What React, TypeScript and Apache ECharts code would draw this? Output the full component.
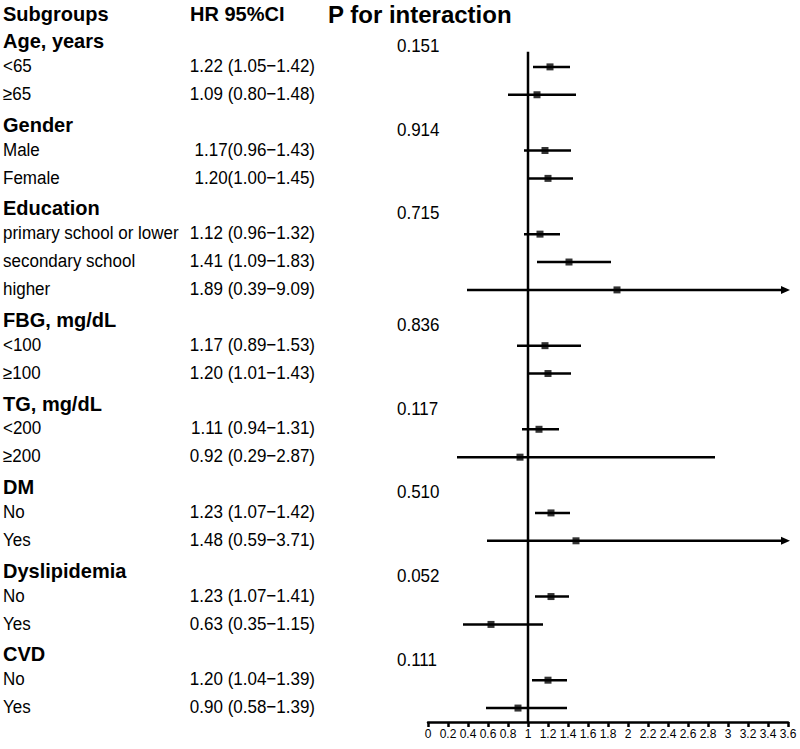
import React, { useEffect, useRef } from 'react';
import * as echarts from 'echarts';

const rowLabels = [
  'Age, years', '<65', '≥65',
  'Gender', 'Male', 'Female',
  'Education', 'primary school or lower', 'secondary school', 'higher',
  'FBG, mg/dL', '<100', '≥100',
  'TG, mg/dL', '<200', '≥200',
  'DM', 'No', 'Yes',
  'Dyslipidemia', 'No', 'Yes',
  'CVD', 'No', 'Yes',
];
const groupRows = [0, 3, 6, 10, 13, 16, 19, 22];
const pValues = ['0.151', '0.914', '0.715', '0.836', '0.117', '0.510', '0.052', '0.111'];
const hr = [null, 1.22, 1.09, null, 1.17, 1.20, null, 1.12, 1.41, 1.89, null, 1.17, 1.20, null, 1.11, 0.92, null, 1.23, 1.48, null, 1.23, 0.63, null, 1.20, 0.90];
const ciLow = [null, 1.05, 0.80, null, 0.96, 1.00, null, 0.96, 1.09, 0.39, null, 0.89, 1.01, null, 0.94, 0.29, null, 1.07, 0.59, null, 1.07, 0.35, null, 1.04, 0.58];
const ciHigh = [null, 1.42, 1.48, null, 1.43, 1.45, null, 1.32, 1.83, 9.09, null, 1.53, 1.43, null, 1.31, 2.87, null, 1.42, 3.71, null, 1.41, 1.15, null, 1.39, 1.39];
const hrTexts = [
  '', '1.22 (1.05−1.42)', '1.09 (0.80−1.48)',
  '', '1.17(0.96−1.43)', '1.20(1.00−1.45)',
  '', '1.12 (0.96−1.32)', '1.41 (1.09−1.83)', '1.89 (0.39−9.09)',
  '', '1.17 (0.89−1.53)', '1.20 (1.01−1.43)',
  '', '1.11 (0.94−1.31)', '0.92 (0.29−2.87)',
  '', '1.23 (1.07−1.42)', '1.48 (0.59−3.71)',
  '', '1.23 (1.07−1.41)', '0.63 (0.35−1.15)',
  '', '1.20 (1.04−1.39)', '0.90 (0.58−1.39)',
];
const xTicks = { min: 0, max: 3.6, interval: 0.2 };
const refValue = 1;

const FONT = '"Liberation Sans", Arial, Helvetica, sans-serif';

export default function App() {
  const ref = useRef<HTMLDivElement>(null);
  useEffect(() => {
    const chart = echarts.init(ref.current!, null, { renderer: 'svg' });
    const rows = rowLabels.map((_, i) => i);
    const withHr = rows.filter((i) => hr[i] != null);
    const ciData = withHr.map((i) => [ciLow[i], i, ciHigh[i]]);
    const pointData = withHr.map((i) => [hr[i], i]);

    const txt = (text: string, x: number, y: number, size: number, bold: boolean, align = 'left', sy = 1.07) => ({
      type: 'text',
      x,
      y,
      scaleY: sy,
      style: {
        text,
        fill: '#000',
        fontSize: size,
        fontWeight: bold ? 'bold' : 'normal',
        fontFamily: FONT,
        align,
        verticalAlign: 'middle',
        textAlign: align,
        textVerticalAlign: 'middle',
      },
    });

    chart.setOption({
      animation: false,
      backgroundColor: '#fff',
      textStyle: { fontFamily: FONT },
      grid: { left: 428, right: 12, top: 39, bottom: 27 },
      xAxis: {
        type: 'value',
        min: xTicks.min,
        max: xTicks.max,
        interval: xTicks.interval,
        axisLine: { show: true, onZero: false, lineStyle: { color: '#000', width: 2.5 } },
        axisTick: { show: true, length: 5, lineStyle: { color: '#000', width: 2.5 } },
        axisLabel: {
          color: '#000',
          fontSize: 12,
          margin: 6,
          showMinLabel: true,
          showMaxLabel: true,
          formatter: (v: number) => String(+v.toFixed(1)),
        },
        splitLine: { show: false },
      },
      yAxis: { type: 'value', min: 0, max: 24.5, inverse: true, show: false },
      graphic: [
        txt('Subgroups', 3, 13, 20, true, 'left', 1.05),
        txt('HR 95%CI', 190, 13, 20, true, 'left', 1.05),
        txt('P for interaction', 328, 14, 24, true, 'left', 1),
      ],
      series: [
        {
          type: 'line',
          data: [[refValue, 0.46], [refValue, 24.5]],
          symbol: 'none',
          silent: true,
          lineStyle: { color: '#000', width: 2.5 },
          z: 2,
        },
        {
          type: 'custom',
          data: ciData,
          encode: { x: [0, 2], y: 1 },
          z: 3,
          renderItem: (params: any, api: any) => {
            const lo = api.value(0);
            const row = api.value(1);
            const hi = api.value(2);
            const y = api.coord([0, row])[1];
            const x1 = api.coord([Math.max(lo, xTicks.min), row])[0];
            const over = hi > xTicks.max;
            const xe = api.coord([Math.min(hi, xTicks.max), row])[0];
            const children: any[] = [
              {
                type: 'line',
                shape: { x1, y1: y, x2: over ? xe - 4 : xe, y2: y },
                style: { stroke: '#000', lineWidth: 2.5 },
              },
            ];
            if (over) {
              children.push({
                type: 'polygon',
                shape: { points: [[xe - 7, y - 4], [xe + 2, y], [xe - 7, y + 4]] },
                style: { fill: '#000' },
              });
            }
            return { type: 'group', children };
          },
        },
        {
          type: 'scatter',
          data: pointData,
          symbol: 'rect',
          symbolSize: 7,
          itemStyle: { color: '#000' },
          z: 4,
        },
        {
          type: 'custom',
          data: rows.map((i) => [0, i]),
          clip: false,
          silent: true,
          renderItem: (params: any, api: any) => {
            const i = api.value(1);
            const y = api.coord([0, i])[1];
            const g = groupRows.indexOf(i);
            const children: any[] = [];
            if (g >= 0) {
              children.push(txt(rowLabels[i], 3, y + 1.5, 20, true, 'left', 1.05));
              children.push(txt(pValues[g], 397, y + 7, 17, false));
            } else {
              children.push(txt(rowLabels[i], 3, y - 1, 17, false));
              children.push(txt(hrTexts[i], 315, y - 1, 17, false, 'right'));
            }
            return { type: 'group', children };
          },
        },
      ],
    });
    return () => chart.dispose();
  }, []);
  return <div ref={ref} style={{ position: 'fixed', left: 0, top: 0, width: 800, height: 749 }} />;
}
